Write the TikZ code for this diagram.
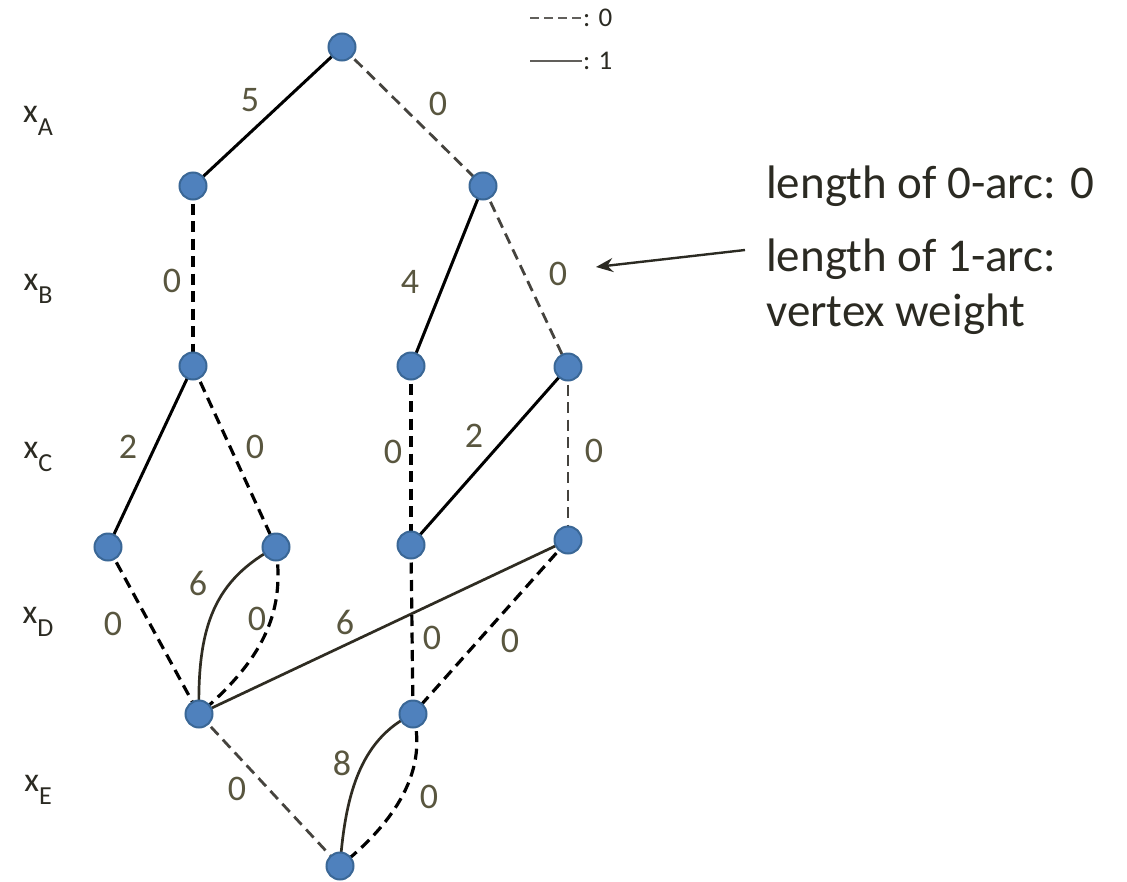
\documentclass[tikz,border=0pt]{standalone}
\usepackage{fontspec}
\setmainfont{Carlito}
\usetikzlibrary{arrows.meta}
\definecolor{nodeblue}{HTML}{4F81BD}
\definecolor{nodeedge}{HTML}{3A6796}
\definecolor{lbl}{HTML}{59563F}
\definecolor{txt}{HTML}{2B2A22}
\definecolor{curv}{HTML}{2F2C22}
\definecolor{greydash}{HTML}{45433E}
\tikzset{
  vtx/.style={circle,fill=nodeblue,draw=nodeedge,line width=2pt,minimum size=27pt,inner sep=0pt},
  one/.style={line width=3pt,black},
  zero/.style={line width=3.2pt,black,dash pattern=on 11pt off 6.5pt},
  zerog/.style={line width=2.8pt,greydash,dash pattern=on 11pt off 6.5pt},
  onec/.style={line width=2.7pt,curv},
  lab/.style={text=lbl,font=\fontsize{36}{40}\selectfont,inner sep=0pt},
  row/.style={text=txt,font=\fontsize{34}{38}\selectfont,inner sep=0pt},
  big/.style={text=txt,font=\fontsize{47}{54}\selectfont,inner sep=0pt,anchor=west},
  leg/.style={text=txt,font=\fontsize{27}{30}\selectfont,inner sep=0pt,anchor=west},
}
\newcommand{\rowsub}[1]{x\raisebox{-13pt}{\fontsize{26}{28}\selectfont #1}}
\begin{document}
\begin{tikzpicture}[x=1pt,y=-1pt]
\useasboundingbox (0,0) rectangle (1127,881);
% legend
\coordinate (l0a) at (530,18); \coordinate (l0b) at (582,18);
\coordinate (l1a) at (530,61); \coordinate (l1b) at (582,61);
\draw[line width=2.6pt,greydash!85,dash pattern=on 9pt off 5pt] (l0a) -- (l0b);
\draw[line width=2.4pt,greydash!85] (l1a) -- (l1b);
\node[leg] (lt0) at (583,18) {: 0};
\node[leg] (lt1) at (583,61) {: 1};
% row labels
\node[row] (xA) at (38,121) {\rowsub{A}};
\node[row] (xB) at (38,289) {\rowsub{B}};
\node[row] (xC) at (38,457) {\rowsub{C}};
\node[row] (xD) at (38,622) {\rowsub{D}};
\node[row] (xE) at (38,790) {\rowsub{E}};
% node positions
\coordinate (R) at (342,47);
\coordinate (A1) at (193,186);
\coordinate (A0) at (483,186);
\coordinate (B1) at (193,366);
\coordinate (B2) at (411,366);
\coordinate (B3) at (568,367);
\coordinate (C1) at (108,547);
\coordinate (C2) at (276,547);
\coordinate (C3) at (411,545);
\coordinate (C4) at (568,540);
\coordinate (D1) at (199,714);
\coordinate (D2) at (413,714);
\coordinate (E) at (340,866);
% edges
\draw[one] (R) -- (A1);
\draw[zerog] (R) -- (A0);
\draw[zero] (A1) -- (B1);
\draw[one] (A0) -- (B2);
\draw[zerog] (A0) -- (B3);
\draw[one] (B1) -- (C1);
\draw[zero] (B1) -- (C2);
\draw[zero] (B2) -- (C3);
\draw[one] (B3) -- (C3);
\draw[zerog] (B3) -- (C4);
\draw[zero] (C1) -- (D1);
\draw[onec] (C2) .. controls (215,580) and (197,625) .. (D1);
\draw[zero] (C2) .. controls (283,600) and (275,650) .. (D1);
\draw[onec] (C4) -- (D1);
\draw[zero] (C3) -- (D2);
\draw[zero] (C4) -- (D2);
\draw[zerog] (D1) -- (E);
\draw[onec] (D2) .. controls (358,740) and (345,800) .. (E);
\draw[zero] (D2) .. controls (430,775) and (388,828) .. (E);
% vertices
\foreach \n in {R,A1,A0,B1,B2,B3,C1,C2,C3,C4,D1,D2,E}
  \node[vtx] (v\n) at (\n) {};
% edge labels
\node[lab] (e1) at (250,100) {5};
\node[lab] (e2) at (438,104) {0};
\node[lab] (e3) at (172,281) {0};
\node[lab] (e4) at (410,282) {4};
\node[lab] (e5) at (558,274) {0};
\node[lab] (e6) at (128,447) {2};
\node[lab] (e7) at (255,447) {0};
\node[lab] (e8) at (393,452) {0};
\node[lab] (e9) at (474,436) {2};
\node[lab] (e10) at (594,451) {0};
\node[lab] (e11) at (113,624) {0};
\node[lab] (e12) at (198,583) {6};
\node[lab] (e13) at (257,619) {0};
\node[lab] (e14) at (345,622) {6};
\node[lab] (e15) at (432,638) {0};
\node[lab] (e16) at (510,641) {0};
\node[lab] (e17) at (237,789) {0};
\node[lab] (e18) at (342,763) {8};
\node[lab] (e19) at (429,797) {0};
% right text
\node[big] (t1) at (766,186) {length of 0-arc: 0};
\node[big] (t2) at (766,259) {length of 1-arc:};
\node[big] (t3) at (766,314) {vertex weight};
\coordinate (arrS) at (745,250);
\coordinate (arrE) at (596,267);
\draw[line width=2.4pt,txt,-{Stealth[length=17pt,width=14pt]}] (arrS) -- (arrE);
\end{tikzpicture}
\end{document}
